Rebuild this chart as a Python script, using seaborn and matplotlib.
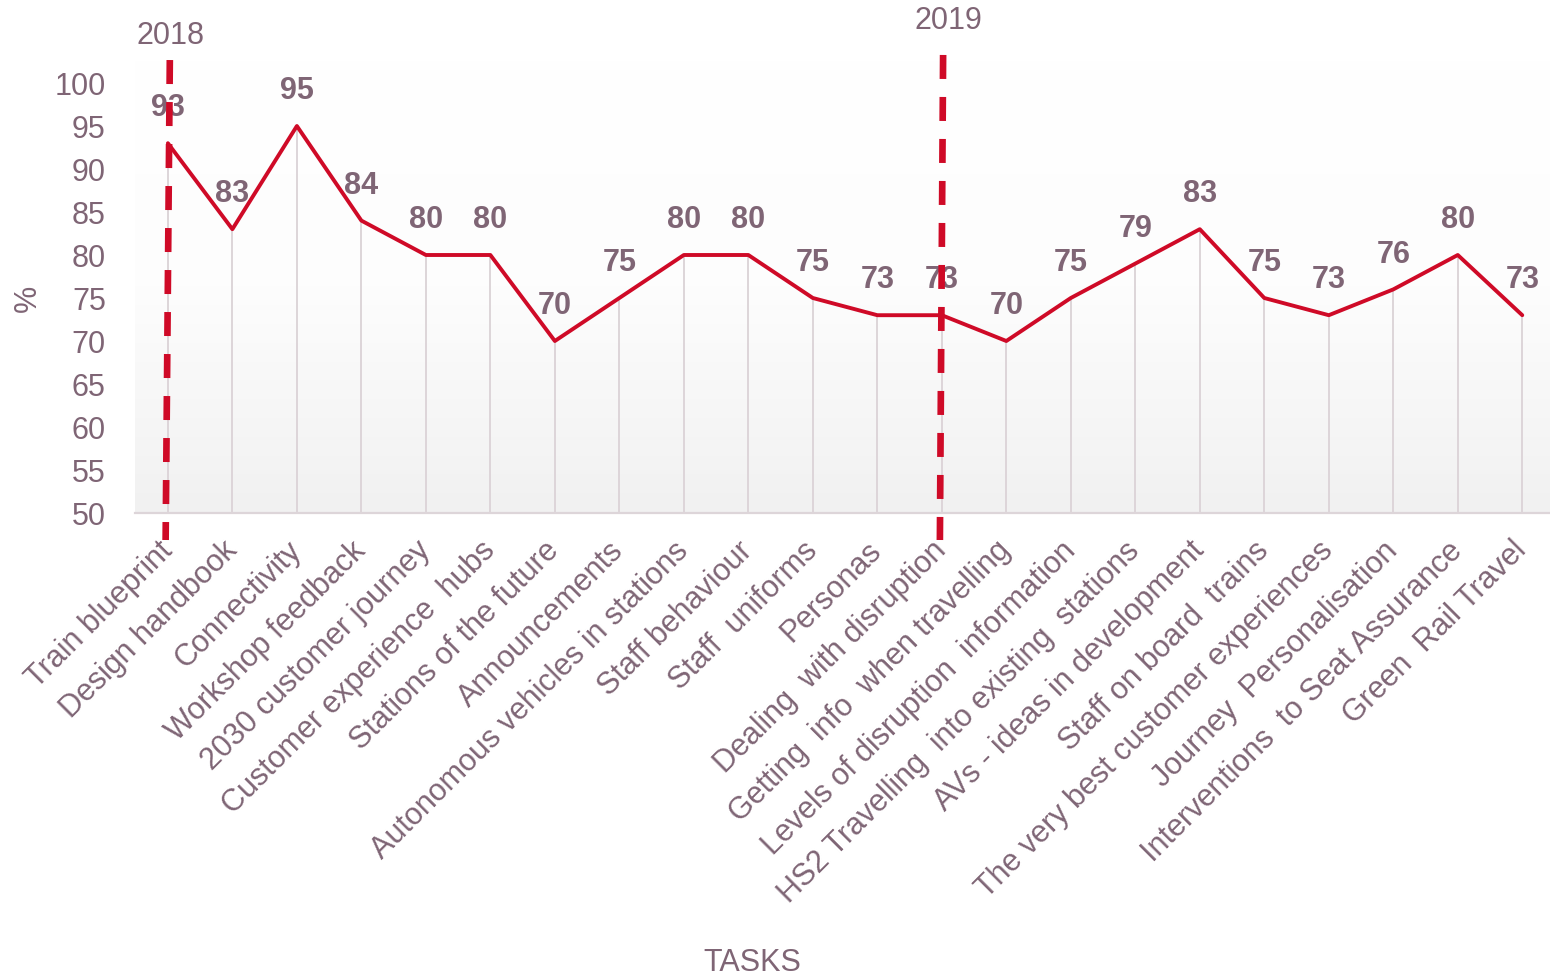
import numpy as np
import matplotlib
matplotlib.use("Agg")
import matplotlib.pyplot as plt
from matplotlib.colors import LinearSegmentedColormap
import seaborn as sns
import pandas as pd

tasks = [
    "Train blueprint", "Design handbook", "Connectivity", "Workshop feedback",
    "2030 customer journey", "Customer experience  hubs", "Stations of the future",
    "Announcements", "Autonomous vehicles in stations", "Staff behaviour",
    "Staff  uniforms", "Personas", "Dealing  with disruption",
    "Getting  info  when travelling", "Levels of disruption  information",
    "HS2 Travelling  into existing  stations", "AVs - ideas in development",
    "Staff on board  trains", "The very best customer experiences",
    "Journey  Personalisation", "Interventions  to Seat Assurance", "Green  Rail Travel",
]
scores = [93, 83, 95, 84, 80, 80, 70, 75, 80, 80, 75, 73, 73, 70, 75, 79, 83, 75, 73, 76, 80, 73]
year_labels = ["2018", "2019"]
year_positions = [0, 12]
y_ticks = [50, 55, 60, 65, 70, 75, 80, 85, 90, 95, 100]

TXT = "#7f6575"
RED = "#cf0a27"
GRID = "#ddd5d9"

sns.set_theme(style="white")
plt.rcParams["font.family"] = ["Liberation Sans", "DejaVu Sans"]

df = pd.DataFrame({"pos": np.arange(len(tasks)), "score": scores, "task": tasks})

fig = plt.figure(figsize=(15.5, 9.8), dpi=100)
ax = fig.add_axes([135 / 1550, (980 - 513) / 980, (1550 - 135) / 1550, (513 - 60) / 980])

ytop = 100 + (83 - 60) / 8.6
xmin, xmax = -0.51, 21.43
ax.set_xlim(xmin, xmax)
ax.set_ylim(50, ytop)

# gradient background
cmap = LinearSegmentedColormap.from_list("g", ["#ffffff", "#fdfdfd", "#f1f1f1"])
grad = np.linspace(0, 1, 256).reshape(-1, 1)
ax.imshow(grad, cmap=cmap, extent=[xmin, xmax, 50, ytop], aspect="auto", zorder=0, origin="upper")

# drop lines
ax.vlines(df["pos"], 50, df["score"], color=GRID, lw=1.4, zorder=1)

sns.lineplot(data=df, x="pos", y="score", ax=ax, color=RED, lw=2.8, zorder=3)

for p, v in zip(df["pos"], df["score"]):
    ax.annotate(str(v), (p, v), xytext=(0, 25), textcoords="offset points",
                ha="center", va="center", fontsize=22, fontweight="bold", color=TXT, zorder=4)

# year dashed lines
offsets = [(0.03, -0.035, 102.67), (0.02, -0.03, 103.26)]
for (lab, pos), (dt, db, top) in zip(zip(year_labels, year_positions), offsets):
    ax.plot([pos + dt, pos + db], [top, 46.86], color=RED, lw=4.8,
            linestyle=(0, (3.6, 2.7)), clip_on=False, zorder=6, solid_capstyle="butt")
year_text_xy = [(170, 36), (948, 21)]
for lab, (px, py) in zip(year_labels, year_text_xy):
    fig.text(px / 1550, 1 - py / 980, lab, ha="center", va="center", fontsize=22, color=TXT)

ax.set_yticks(y_ticks)
ax.set_yticklabels([str(t) for t in y_ticks])
ax.set_xticks(df["pos"])
ax.set_xticklabels(tasks, rotation=45, ha="right", va="center", rotation_mode="anchor")
ax.tick_params(axis="y", length=0, pad=21, labelsize=22, labelcolor=TXT)
ax.tick_params(axis="x", length=0, pad=24, labelsize=22, labelcolor=TXT)

for s in ["top", "right", "left"]:
    ax.spines[s].set_visible(False)
ax.spines["bottom"].set_color(GRID)
ax.spines["bottom"].set_linewidth(1.6)
ax.set_xlabel("")
ax.set_ylabel("")
ax.grid(False)

fig.text(28 / 1550, 1 - 298 / 980, "%", rotation=90, ha="center", va="center", fontsize=22, color=TXT)
fig.text(752 / 1550, 1 - 963 / 980, "TASKS", ha="center", va="center", fontsize=22, color=TXT)

fig.savefig("out.png", dpi=100)
